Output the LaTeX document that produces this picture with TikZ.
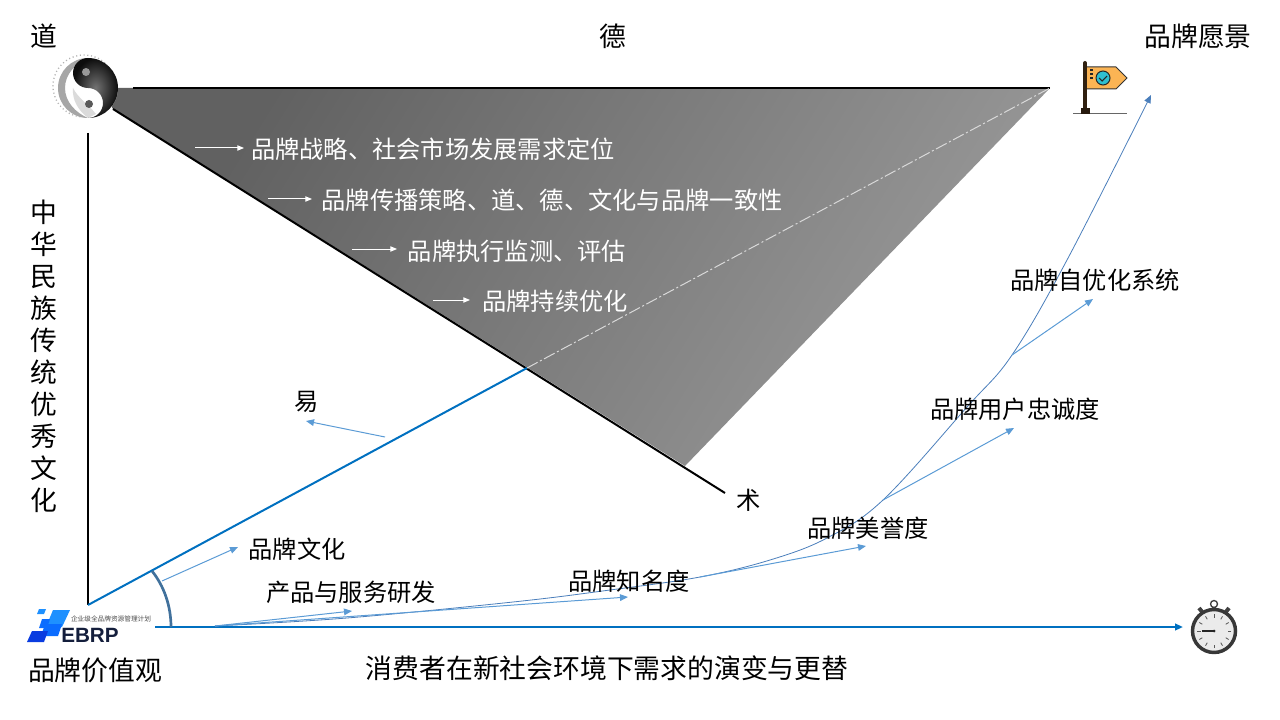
\documentclass[tikz,border=0pt]{standalone}
\usepackage{fontspec}
\setmainfont{Noto Sans CJK SC}
\newfontfamily\logofont{Liberation Sans}
\usetikzlibrary{arrows.meta}
\definecolor{thinblue}{HTML}{5B9BD5}
\definecolor{curveblue}{HTML}{4A7EBB}
\definecolor{axisblue}{HTML}{0070C0}
\definecolor{arcblue}{HTML}{41719C}
\definecolor{logoA}{HTML}{1E90FF}
\definecolor{logoB}{HTML}{0A6CFF}
\definecolor{logoC}{HTML}{0A3CE0}
\definecolor{flagfill}{HTML}{FBB454}
\definecolor{dialteal}{HTML}{2FBFD0}
\definecolor{logotext}{HTML}{141E3C}
\tikzset{
  big/.style={font=\fontsize{20.1}{24}\selectfont,text=black,inner sep=0pt},
  mid/.style={font=\fontsize{18.2}{24}\selectfont,text=black,inner sep=0pt},
  inner/.style={font=\fontsize{18.2}{24}\selectfont,text=white,inner sep=0pt},
  blackline/.style={draw=black,line width=1.5pt},
  blueline/.style={draw=axisblue,line width=1.5pt},
  thinarrow/.style={draw=thinblue,line width=0.75pt,-{Triangle[length=6pt,width=5pt]}},
  whitearrow/.style={draw=white,line width=0.75pt,-{Triangle[length=5pt,width=4pt]}}
}
\begin{document}
\begin{tikzpicture}[x=0.75pt,y=-0.75pt]
\useasboundingbox (0,0) rectangle (1280,720);
% shaded triangle
\shade[top color=black!62,bottom color=black!40,shading angle=58]
  (112,88) -- (1050,88) -- (685,466) -- (112,108) -- cycle;
% structure points
\coordinate (topL) at (133,88);
\coordinate (topR) at (1050,88);
\coordinate (diagA) at (113,109);
\coordinate (diagB) at (725,493);
\coordinate (vertA) at (88,133);
\coordinate (origin) at (88,605);
\coordinate (mid) at (527,368);
\coordinate (axisA) at (155,627);
\coordinate (axisB) at (1183,627);
\coordinate (fork) at (215,626);
\draw[blackline] (topL) -- (topR);
\draw[blackline] (diagA) -- (diagB);
\draw[blackline] (vertA) -- (origin);
\draw[blueline] (origin) -- (mid);
\draw[white!85!black,line width=0.75pt,dash pattern=on 9pt off 2pt on 1.5pt off 2pt] (mid) -- (topR);
\draw[blueline,-{Triangle[length=6pt,width=5pt]}] (axisA) -- (axisB);
% angle arc
\coordinate (arcA) at (152,571);
\coordinate (arcB) at (171,627);
\draw[arcblue,line width=2pt] (arcA) .. controls (164,586) and (171,606) .. (arcB);
% main curve
\coordinate (c0) at (347,618);
\coordinate (c1) at (513,602);
\coordinate (c1b) at (610,590);
\coordinate (c2) at (700,577);
\coordinate (c2b) at (770,560);
\coordinate (c3) at (827,538);
\coordinate (c4) at (883,500);
\coordinate (c5) at (967,407);
\coordinate (c6) at (1012,355);
\coordinate (c7) at (1067,260);
\coordinate (curveEnd) at (1151,95);
\draw[curveblue,line width=0.6pt,-{Triangle[length=6pt,width=5pt]}]
  plot[smooth,tension=0.6] coordinates {(fork) (c0) (c1) (c1b) (c2) (c2b) (c3) (c4) (c5) (c6) (c7) (curveEnd)};
% thin arrows
\coordinate (s1) at (162,581); \coordinate (e1) at (238,547);
\coordinate (s2) at (385,437); \coordinate (e2) at (306,421);
\coordinate (e3) at (352,611);
\coordinate (e4) at (628,597);
\coordinate (e5) at (866,546);
\coordinate (e6) at (1014,428);
\coordinate (e7) at (1093,299);
\draw[thinarrow] (s1) -- (e1);
\draw[thinarrow] (s2) -- (e2);
\draw[thinarrow] (fork) -- (e3);
\draw[thinarrow] (fork) -- (e4);
\draw[thinarrow] (c2) -- (e5);
\draw[thinarrow] (c4) -- (e6);
\draw[thinarrow] (c6) -- (e7);
% white arrows
\coordinate (w1a) at (195,148); \coordinate (w1b) at (244,148);
\coordinate (w2a) at (268,199); \coordinate (w2b) at (312,199);
\coordinate (w3a) at (352,249); \coordinate (w3b) at (397,249);
\coordinate (w4a) at (433,300); \coordinate (w4b) at (470,300);
\draw[whitearrow] (w1a) -- (w1b);
\draw[whitearrow] (w2a) -- (w2b);
\draw[whitearrow] (w3a) -- (w3b);
\draw[whitearrow] (w4a) -- (w4b);
% labels
\node[big] (dao) at (44,36) {道};
\node[big] (de) at (613,36) {德};
\node[big] (vision) at (1198,36) {品牌愿景};
\node[big,align=center,font=\fontsize{20.1}{24}\selectfont] (culture) at (44,356) {中\\华\\民\\族\\传\\统\\优\\秀\\文\\化};
\node[big] (value) at (95,670) {品牌价值观};
\node[big] (consumer) at (607,668) {消费者在新社会环境下需求的演变与更替};
\node[inner] (t1) at (433,149) {品牌战略、社会市场发展需求定位};
\node[inner] (t2) at (552,200) {品牌传播策略、道、德、文化与品牌一致性};
\node[inner] (t3) at (517,251) {品牌执行监测、评估};
\node[inner] (t4) at (555,301) {品牌持续优化};
\node[mid] (yi) at (307,402) {易};
\node[mid] (shu) at (749,500) {术};
\node[mid] (l1) at (297,549) {品牌文化};
\node[mid] (l2) at (351,592) {产品与服务研发};
\node[mid] (l3) at (629,581) {品牌知名度};
\node[mid] (l4) at (868,528) {品牌美誉度};
\node[mid] (l5) at (1015,409) {品牌用户忠诚度};
\node[mid] (l6) at (1095,280) {品牌自优化系统};
% yin-yang icon
\draw[black!30,line width=1pt,dash pattern=on 0.8pt off 2pt] (84,86) circle (31);
\fill[white] (88,88) circle (30);
\fill[black!35] (88,58) .. controls (71.4,58) and (58,71.4) .. (58,88)
  .. controls (58,104.6) and (71.4,118) .. (88,118)
  .. controls (76,113) and (65,102) .. (65,88)
  .. controls (65,74) and (76,63) .. (88,58) -- cycle;
\fill[black!14] (88,118) .. controls (78,110) and (72,100) .. (73,88) .. controls (78,98) and (88,104) .. (96,114) -- cycle;
\shade[inner color=black!55,outer color=black!95]
  (88,58) .. controls (79.7,58) and (73,64.7) .. (73,73)
  .. controls (73,81.3) and (79.7,88) .. (88,88)
  .. controls (96.3,88) and (103,94.7) .. (103,103)
  .. controls (103,111.3) and (96.3,118) .. (88,118)
  .. controls (104.6,118) and (118,104.6) .. (118,88)
  .. controls (118,71.4) and (104.6,58) .. (88,58) -- cycle;
\fill[black!40] (86,72) circle (4);
\fill[black!65] (89,104) circle (4);
% flag icon
\draw[black!60,line width=0.75pt] (1073,114) -- (1127,114);
\fill[flagfill] (1087,67) -- (1116,67) -- (1127,78) -- (1116,89) -- (1087,89) -- cycle;
\draw[black!80,line width=0.75pt] (1087,67) -- (1116,67) -- (1127,78) -- (1116,89) -- (1087,89);
\draw[black!75!brown,line width=3pt,line cap=round] (1085,63) -- (1085,110);
\fill[black!80!brown] (1081,108) rectangle (1090,114);
\draw[black!85,fill=dialteal,line width=0.75pt] (1103,78) circle (7);
\draw[black!85,line width=0.8pt] (1099,78) -- (1102,81) -- (1107,76);
\fill[black!85] (1090,69) rectangle (1092.5,71);
\fill[black!85] (1090,73) rectangle (1092.5,75);
\fill[black!85] (1090,77) rectangle (1092.5,79);
% stopwatch icon
\draw[black!75,fill=white,line width=1pt] (1214,604) circle (3.5);
\draw[black!75,line width=3pt] (1214,607) -- (1214,612);
\draw[black!75,line width=3pt] (1199,608) -- (1203,613);
\draw[black!75,line width=3pt] (1229,608) -- (1225,613);
\draw[black!78,fill=black!8,line width=2.6pt] (1214,631) circle (21.5);
\foreach \a in {0,30,...,330}{
  \draw[black!65,line width=0.6pt] (1214,631) ++(\a:17) -- ++(\a:-3.5);
}
\draw[black!85,line width=0.9pt] (1202,631) -- (1214,631);
\fill[black!85] (1214,631) circle (1.5);
% EBRP logo
\fill[logoA] (39,609) -- (46,609) -- (44,614) -- (37,614) -- cycle;
\fill[logoA] (53,610) -- (70,610) -- (62,627) -- (46,627) -- cycle;
\fill[logoB] (42,619) -- (50,619) -- (47,628) -- (39,628) -- cycle;
\fill[logoB] (45,624) -- (62,624) -- (58,636) -- (41,636) -- cycle;
\fill[logoC] (32,631) -- (48,631) -- (44,642) -- (27,642) -- cycle;
\node[inner sep=0pt,text=black!70,font=\fontsize{5}{6}\selectfont] (logosub) at (111,619) {企业级全品牌资源管理计划};
\node[inner sep=0pt,text=logotext,font=\logofont\bfseries\fontsize{15.5}{16}\selectfont] (logo) at (90,635) {EBRP};
\end{tikzpicture}
\end{document}
